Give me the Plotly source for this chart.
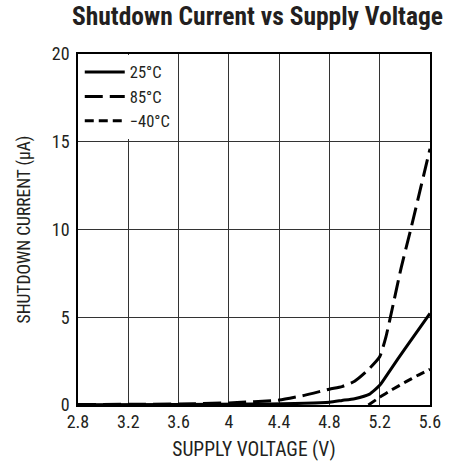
import plotly.graph_objects as go

# Data
v_25 = [2.8, 3.6, 4.2, 4.8, 4.9, 5.0, 5.12, 5.2, 5.28, 5.41, 5.6]
i_25 = [0.02, 0.03, 0.05, 0.16, 0.26, 0.36, 0.62, 1.12, 1.95, 3.3, 5.22]

v_85 = [2.8, 3.2, 3.6, 4.0, 4.2, 4.4, 4.6, 4.8, 4.9, 5.0, 5.1, 5.2, 5.25, 5.3, 5.37, 5.45, 5.52, 5.6]
i_85 = [0.03, 0.04, 0.06, 0.12, 0.19, 0.28, 0.55, 0.9, 1.05, 1.35, 1.95, 2.75, 3.9, 5.5, 7.8, 10.1, 12.2, 14.6]

v_m40 = [5.11, 5.2, 5.3, 5.41, 5.5, 5.6]
i_m40 = [0.0, 0.44, 0.88, 1.33, 1.68, 2.03]

x_ticks = [2.8, 3.2, 3.6, 4.0, 4.4, 4.8, 5.2, 5.6]
x_labels = ["2.8", "3.2", "3.6", "4", "4.4", "4.8", "5.2", "5.6"]
y_ticks = [0, 5, 10, 15, 20]

FONT = "Liberation Sans Narrow, Roboto Condensed, Arial Narrow, sans-serif"
INK = "#231f20"

fig = go.Figure()
fig.add_trace(go.Scatter(x=v_25, y=i_25, name="25°C", mode="lines",
                         line=dict(color="black", width=3, shape="spline", smoothing=0.5)))
fig.add_trace(go.Scatter(x=v_85, y=i_85, name="85°C", mode="lines",
                         line=dict(color="black", width=3, dash="18px,7px", shape="spline", smoothing=0.5)))
fig.add_trace(go.Scatter(x=v_m40, y=i_m40, name="−40°C", mode="lines",
                         line=dict(color="black", width=3, dash="9px,5px", shape="spline", smoothing=0.5)))

fig.update_layout(
    width=450, height=462,
    margin=dict(l=78, r=20, t=54, b=57, autoexpand=False),
    paper_bgcolor="white", plot_bgcolor="white",
    font=dict(family=FONT, size=18, color=INK),
    title=dict(text="<b>Shutdown Current vs Supply Voltage</b>",
               font=dict(family=FONT, size=25.5, color=INK),
               x=257.5 / 450, xanchor="center", y=1 - 16 / 462, yanchor="middle"),
    showlegend=True,
    legend=dict(x=0.005, y=0.998, xanchor="left", yanchor="top",
                bgcolor="white", borderwidth=0, itemwidth=40,
                font=dict(family=FONT, size=16.5, color=INK),
                tracegroupgap=0, itemclick=False),
)
fig.update_xaxes(range=[2.8, 5.6], tickvals=x_ticks, ticktext=x_labels,
                 showgrid=True, gridcolor="#333", gridwidth=1,
                 showline=True, linecolor="black", linewidth=1.5, mirror=True,
                 ticks="", zeroline=False, automargin=False,
                 tickfont=dict(size=18),
                 title=dict(text="SUPPLY VOLTAGE (V)", standoff=11, font=dict(size=19.5)))
fig.update_yaxes(range=[0, 20], tickvals=y_ticks,
                 showgrid=True, gridcolor="#333", gridwidth=1,
                 showline=True, linecolor="black", linewidth=1.5, mirror=True,
                 ticks="", zeroline=False, automargin=False, ticklabelstandoff=3,
                 tickfont=dict(size=18),
                 title=dict(text="SHUTDOWN CURRENT (µA)", standoff=17, font=dict(size=17.5)))

fig.write_html("out.html", config={"displayModeBar": False},
               post_script="document.body.style.margin='0';")
